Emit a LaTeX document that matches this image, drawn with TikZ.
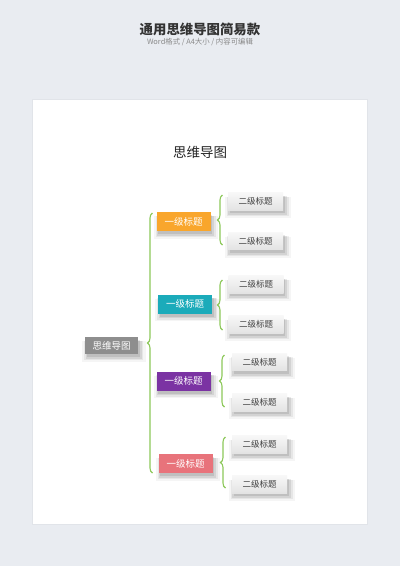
\documentclass[tikz,border=0pt]{standalone}
\usepackage{fontspec}
\setmainfont{Noto Sans CJK SC}
\usepackage{tikz}
\usetikzlibrary{decorations.pathreplacing,shadows,positioning}

\definecolor{pagebg}{HTML}{E9ECF1}
\definecolor{linegreen}{HTML}{8DC85A}
\definecolor{rootgrey}{HTML}{8E8E8E}
\definecolor{topicorange}{HTML}{F9A62C}
\definecolor{topicteal}{HTML}{1BABBA}
\definecolor{topicpurple}{HTML}{7B33A3}
\definecolor{topicred}{HTML}{E8737B}
\definecolor{subtext}{HTML}{404040}

\begin{document}
\begin{tikzpicture}[
    x = 1pt, y = -1pt, % pixel units, y down
    bracket/.style = {decorate, decoration={brace, amplitude=5pt}, draw=linegreen, line width=1.1pt},
    soft shade/.style = {
        general shadow={fill=black, opacity=0.04, shadow xshift=2pt, shadow yshift=-5pt, shadow scale=1.2},
        general shadow={fill=black, opacity=0.06, shadow xshift=2pt, shadow yshift=-4.5pt, shadow scale=1.12},
        general shadow={fill=black, opacity=0.08, shadow xshift=2pt, shadow yshift=-4pt, shadow scale=1.06},
        general shadow={fill=black, opacity=0.09, shadow xshift=1.5pt, shadow yshift=-3pt, shadow scale=1.0}},
    topic/.style = {minimum width=54pt, minimum height=19pt, inner sep=0pt, text=white,
        font=\fontsize{9.5}{10}\selectfont, soft shade},
    subtopic/.style = {minimum width=55pt, minimum height=17.5pt, inner sep=0pt, text=subtext,
        top color=white!97!black, bottom color=white!89!black,
        font=\fontsize{8.5}{9}\selectfont, soft shade}
    ]

    % page and card
    \useasboundingbox (0,0) rectangle (400,566);
    \fill[pagebg] (0,0) rectangle (400,566);
    \fill[black, opacity=0.03] (32,99) rectangle (368,525);
    \fill[white] (33,100) rectangle (367,524);

    \node (title) at (200,29) {\fontsize{13.4}{14}\selectfont\bfseries\color[HTML]{333333}通用思维导图简易款};
    \node (subtitle) at (200,42) {\fontsize{7.4}{8}\selectfont\color[HTML]{8A8A8A}Word格式 / A4大小 / 内容可编辑};
    \node (heading) at (200,152) {\fontsize{13.5}{14}\selectfont\color[HTML]{222222}思维导图};

    % root
    \node[topic, fill=rootgrey, minimum width=53pt, minimum height=17pt] (root) at (111.5,345.5) {思维导图};

    % first level
    \node[topic, fill=topicorange] (t1) at (183.5,221.5) {一级标题};
    \node[topic, fill=topicteal]   (t2) at (185,304)     {一级标题};
    \node[topic, fill=topicpurple] (t3) at (183.5,381)   {一级标题};
    \node[topic, fill=topicred]    (t4) at (185.5,463.5) {一级标题};

    % second level
    \node[subtopic] (s1a) at (255.5,201.5) {二级标题};
    \node[subtopic] (s1b) at (255.5,241)   {二级标题};
    \node[subtopic] (s2a) at (256,284.5)   {二级标题};
    \node[subtopic] (s2b) at (256,324.5)   {二级标题};
    \node[subtopic] (s3a) at (259.5,362)   {二级标题};
    \node[subtopic] (s3b) at (259.5,402.5) {二级标题};
    \node[subtopic] (s4a) at (259.5,444.5) {二级标题};
    \node[subtopic] (s4b) at (259.5,484.5) {二级标题};

    % brackets
    \coordinate (mainlo) at (152.5,473);
    \coordinate (mainhi) at (152.5,213);
    \draw[bracket] (mainlo) -- (mainhi);

    \coordinate (b1lo) at (222.5,245);
    \coordinate (b1hi) at (222.5,195);
    \draw[bracket] (b1lo) -- (b1hi);
    \coordinate (b2lo) at (222.5,330);
    \coordinate (b2hi) at (222.5,280);
    \draw[bracket] (b2lo) -- (b2hi);
    \coordinate (b3lo) at (224.5,407);
    \coordinate (b3hi) at (224.5,355);
    \draw[bracket] (b3lo) -- (b3hi);
    \coordinate (b4lo) at (225.5,488);
    \coordinate (b4hi) at (225.5,437);
    \draw[bracket] (b4lo) -- (b4hi);
\end{tikzpicture}
\end{document}
